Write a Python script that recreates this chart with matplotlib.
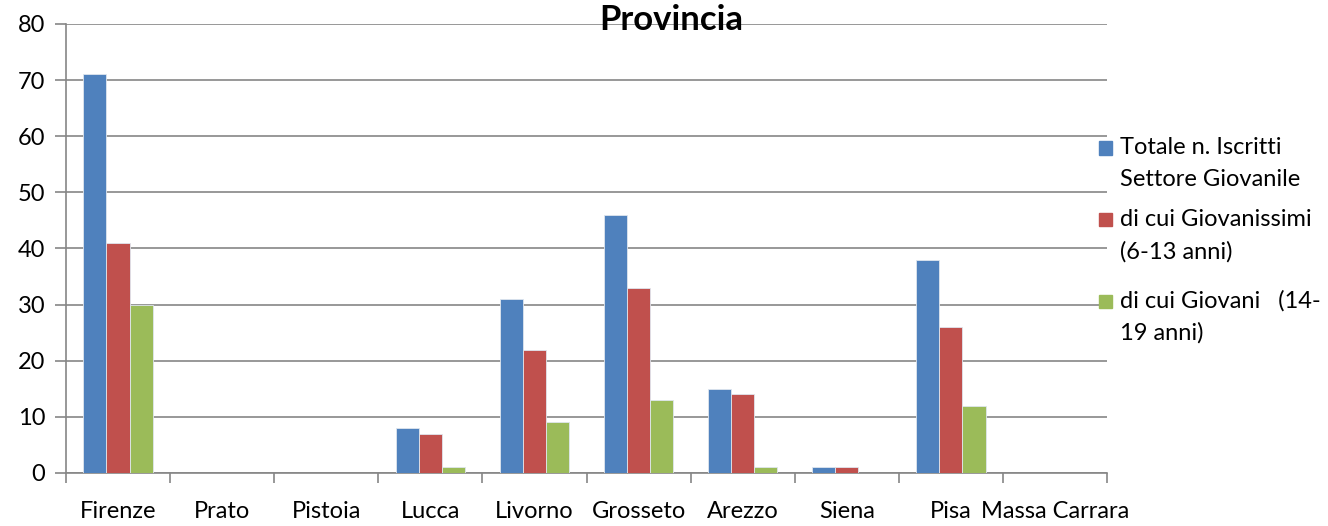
import numpy as np
import matplotlib.pyplot as plt
from matplotlib.patches import Rectangle

province = ['Firenze', 'Prato', 'Pistoia', 'Lucca', 'Livorno', 'Grosseto',
            'Arezzo', 'Siena', 'Pisa', 'Massa Carrara']
totale = [71, 0, 0, 8, 31, 46, 15, 1, 38, 0]
giovanissimi = [41, 0, 0, 7, 22, 33, 14, 1, 26, 0]
giovani = [30, 0, 0, 1, 9, 13, 1, 0, 12, 0]

labels = ['Totale n. Iscritti\nSettore Giovanile',
          'di cui Giovanissimi\n(6-13 anni)',
          'di cui Giovani   (14-\n19 anni)']
colors = ['#4F81BD', '#C0504D', '#9BBB59']

plt.rcParams['font.family'] = ['Lato', 'DejaVu Sans']
grid_c = '#868686'
W, H = 1328, 526

fig = plt.figure(figsize=(W / 100, H / 100), dpi=100)
ax = fig.add_axes([0.0497, 0.1008, 0.7839, 0.8536])

x = np.arange(len(province))
w = 0.222
for i, (vals, c) in enumerate(zip([totale, giovanissimi, giovani], colors)):
    ax.bar(x + (i - 1) * w, vals, width=w, color=c, edgecolor='#dfe6ee',
           linewidth=0.6, zorder=3)

ax.set_xlim(-0.5, len(province) - 0.5)
ax.set_ylim(0, 80)
ax.set_yticks(range(0, 81, 10))
ax.yaxis.grid(True, color=grid_c, linewidth=1.2, zorder=0)
ax.tick_params(axis='y', length=8, color=grid_c, width=1.2, labelsize=17, pad=7)

ax.set_xticks(x)
ax.set_xticklabels(province, fontsize=17)
ax.set_xticks(np.arange(-0.5, len(province)), minor=True)
ax.tick_params(axis='x', which='major', length=0, pad=20)
ax.tick_params(axis='x', which='minor', length=7, color=grid_c, width=1.2)

for s in ['top', 'right']:
    ax.spines[s].set_visible(False)
for s in ['left', 'bottom']:
    ax.spines[s].set_color(grid_c)
    ax.spines[s].set_linewidth(1.2)

fig.text(671 / W, 1 - 20 / H, 'Provincia', fontsize=25, fontweight='bold',
         ha='center', va='center')

# legend drawn by hand: square on the first line, wrapped text below
entry_y = [148, 220, 301]
for lab, c, y0 in zip(labels, colors, entry_y):
    fig.patches.append(Rectangle((1099 / W, 1 - (y0 + 6.5) / H), 13 / W, 13 / H,
                                 color=c, transform=fig.transFigure, figure=fig))
    for k, line in enumerate(lab.split('\n')):
        fig.text(1120 / W, 1 - (y0 + 32 * k) / H, line, fontsize=17,
                 ha='left', va='center')

fig.savefig('out.png', dpi=100)
